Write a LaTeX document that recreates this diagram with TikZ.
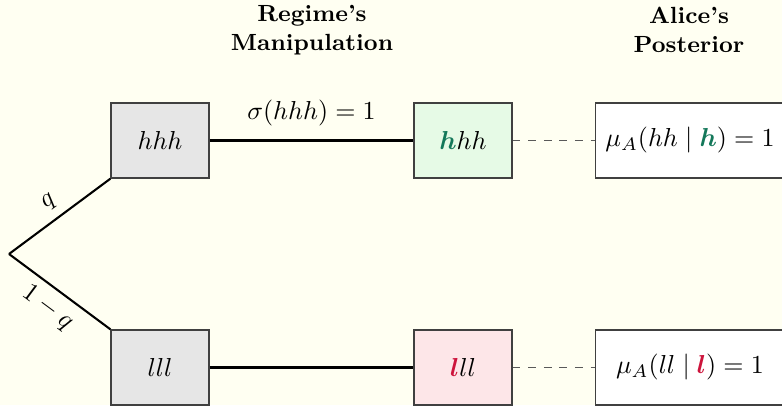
\documentclass[tikz,border=0pt]{standalone}
\usepackage{amsmath,bm}
\definecolor{paper}{RGB}{255,255,242}
\definecolor{goodgreen}{RGB}{20,120,90}
\definecolor{badred}{RGB}{205,20,60}
\definecolor{greenfill}{RGB}{230,250,230}
\definecolor{redfill}{RGB}{253,230,232}
\definecolor{grayfill}{RGB}{230,230,230}
\begin{document}
\begin{tikzpicture}[x=0.385pt,y=-0.385pt,
  statebox/.style={draw=black!75, line width=0.5pt, minimum width=37.7pt, minimum height=28.9pt, inner sep=0pt},
  postbox/.style={draw=black!75, line width=0.5pt, fill=white, minimum width=73pt, minimum height=28.9pt, inner sep=0pt},
  branch/.style={line width=0.8pt, black},
  link/.style={line width=0.5pt, black!65, dashed},
  header/.style={font=\small\bfseries, align=center}]
  \useasboundingbox (0,0) rectangle (782,405);
  \clip (0,0) rectangle (782,405);
  \fill[paper] (0,0) rectangle (782,405);

  % column headers
  \node[header] (hreg) at (312,30) {Regime's\\Manipulation};
  \node[header] (hpost) at (689,30) {Alice's\\Posterior};

  % root and first-stage states
  \coordinate (root) at (9,254);
  \node[statebox, fill=grayfill] (hhh) at (160,140.5) {$hhh$};
  \node[statebox, fill=grayfill] (lll) at (160,367.5) {$lll$};

  % manipulated signals
  \node[statebox, fill=greenfill] (mh) at (463,140.5) {$\textcolor{goodgreen}{\bm{h}}hh$};
  \node[statebox, fill=redfill] (ml) at (463,367.5) {$\textcolor{badred}{\bm{l}}ll$};

  % posteriors
  \node[postbox] (ph) at (690,140.5) {$\mu_A(hh \mid \textcolor{goodgreen}{\bm{h}}) = 1$};
  \node[postbox] (pl) at (690,367.5) {$\mu_A(ll \mid \textcolor{badred}{\bm{l}}) = 1$};

  % nature's move
  \draw[branch] (root) -- node[sloped, above, pos=0.5] {$q$} (hhh.south west);
  \draw[branch] (root) -- node[sloped, below, pos=0.5] {$1-q$} (lll.north west);

  % regime's choice
  \draw[branch] (hhh.east) -- node[above=2pt] {$\sigma(hhh) = 1$} (mh.west);
  \draw[branch] (lll.east) -- (ml.west);

  % beliefs
  \draw[link] (mh.east) -- (ph.west);
  \draw[link] (ml.east) -- (pl.west);
\end{tikzpicture}
\end{document}
